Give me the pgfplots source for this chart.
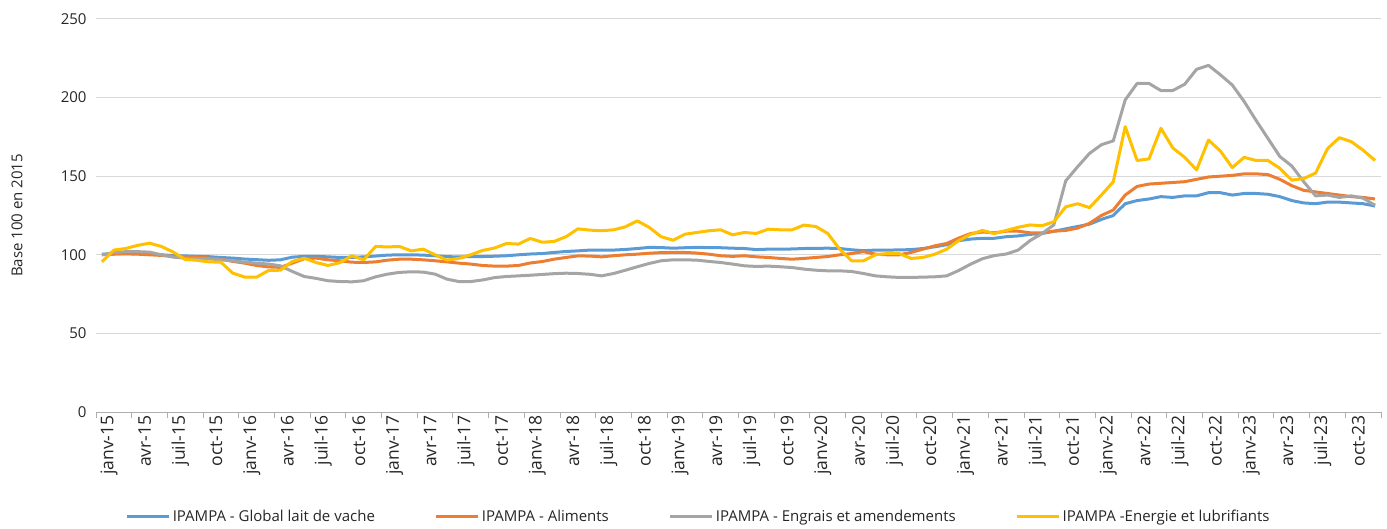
\documentclass[border=0pt]{standalone}
\usepackage{fontspec}
\setmainfont{Open Sans}
\usepackage{pgfplots}
\usepackage{pgfplotstable}
\pgfplotsset{compat=1.18}
\definecolor{cBlue}{HTML}{5B9BD5}
\definecolor{cOrange}{HTML}{ED7D31}
\definecolor{cGray}{HTML}{A5A5A5}
\definecolor{cYellow}{HTML}{FFC000}
\definecolor{cGrid}{HTML}{D9D9D9}
\definecolor{cText}{HTML}{262626}
\pgfplotstableread{
m lait alim engr ener
0 100.5 100 100 95.5
1 100.5 100.5 101.5 103
2 100.8 100.6 102 104
3 100.8 100.4 102 106
4 100.5 100 101.7 107.4
5 100 99.6 100 105.3
6 99.5 99 98.5 101.7
7 99.3 98.9 97.9 97
8 99 98.5 97.5 96.5
9 98.8 97.9 97.4 95.5
10 98.3 97.2 96.8 95.3
11 97.9 95.8 96.2 88.3
12 97.3 94.7 95.3 85.8
13 96.9 93.2 94.7 85.8
14 96.5 92.3 94.1 90
15 96.8 92 93 90.2
16 98.5 94.7 89.4 95.8
17 99 97.5 86.2 97.8
18 99 97.9 85 95.1
19 98.7 96.8 83.5 93.2
20 98.3 96.2 83 95
21 98.3 95.3 82.8 99.4
22 98.7 95.1 83.5 96.8
23 99.2 95.5 86 105.3
24 99.8 96.6 87.7 105
25 100 97.2 88.8 105.3
26 100 97.2 89.2 102.5
27 99.8 96.8 89 103.6
28 99.4 96.2 87.7 100
29 98.8 95.5 84.5 96.6
30 98.7 94.7 83 97.7
31 98.8 94.1 83 100
32 98.9 93.2 84 102.8
33 99.1 92.8 85.5 104.3
34 99.4 92.8 86.2 107.2
35 100 93.2 86.6 106.8
36 100.5 94.8 87 110.4
37 100.8 95.7 87.5 108
38 101.5 97.2 88 108.5
39 102.1 98.3 88.3 111.5
40 102.5 99.3 88.1 116.5
41 103 99.2 87.6 115.7
42 103 98.7 86.6 115.3
43 103 99.4 88.1 115.9
44 103.4 100 90.2 117.8
45 104 100.4 92.4 121.6
46 104.7 101 94.5 117.4
47 104.6 101.4 96.2 111.5
48 104.2 101.5 96.8 109.3
49 104.5 101.5 96.8 113.1
50 104.7 101.1 96.6 114.2
51 104.6 100.4 95.8 115.3
52 104.5 99.4 95.1 115.9
53 104.2 99 94.1 112.7
54 104 99.4 93 114.2
55 103.3 98.7 92.6 113.6
56 103.6 98.3 92.8 116.3
57 103.6 97.7 92.4 115.9
58 103.7 97.2 91.9 115.9
59 104 97.7 90.9 118.9
60 104.1 98.3 90.2 118
61 104.2 98.9 89.8 113.6
62 104 100 89.8 103.6
63 103.2 100.8 89.4 96.2
64 102.6 102 88.1 96.2
65 103 100.4 86.6 100
66 103 100 86 100.8
67 103.1 100 85.6 100.8
68 103.3 101.5 85.6 97.7
69 104 103.6 85.8 98.3
70 105.1 105.7 86 100.4
71 106.4 107.2 86.6 103.6
72 109 110.6 90 109
73 110 113.5 94 113
74 110.5 114.5 97.5 115.5
75 110.5 114 99.5 113.5
76 111.5 115 100.5 115.5
77 112 115 103 117.5
78 113 114 109 119
79 113.5 114 113.5 118.5
80 115 115 119 121
81 116.5 115.5 147 130.5
82 118 117 156 132.5
83 119.5 120 164.5 130
84 122.5 125 170 138
85 125 128.5 172.5 146.5
86 132.5 138 198.5 181.5
87 134.5 143.5 209 160
88 135.5 145 209 161
89 137 145.5 204.5 180.5
90 136.5 146 204.5 168
91 137.5 146.5 208.5 162
92 137.5 148 218 154
93 139.5 149.5 220.5 173
94 139.5 150 214.5 166
95 138 150.5 208 155.5
96 139 151.5 197.5 162
97 139 151.5 185.5 160
98 138.5 151 174 160
99 137 148 162.5 155
100 134.5 144 156.5 147.5
101 133 141 146.5 148.5
102 132.5 140 137.5 152
103 133.5 139 138 167.5
104 133.5 138 136.5 174.5
105 133 137 137.5 172
106 132.5 136.5 136 166.5
107 131 135.5 131.5 160
}\datatable
\begin{document}
\begin{tikzpicture}
\useasboundingbox (0,0) rectangle (1387bp,529bp);
\begin{axis}[
  at={(96bp,117bp)}, anchor=south west,
  scale only axis, width=1285bp, height=393bp,
  xmin=-0.5, xmax=107.5, ymin=0, ymax=250,
  font=\fontsize{15bp}{17bp}\selectfont\color{cText},
  /pgf/number format/assume math mode=true,
  axis x line*=bottom, axis y line*=left,
  x axis line style={-, draw=cGrid!80!black, line width=1bp},
  y axis line style={draw=none},
  ytick={0,50,...,250},
  ymajorgrids, grid style={cGrid, line width=1bp},
  xtick={0,3,...,105},
  xticklabels={janv-15,avr-15,juil-15,oct-15,janv-16,avr-16,juil-16,oct-16,janv-17,avr-17,juil-17,oct-17,janv-18,avr-18,juil-18,oct-18,janv-19,avr-19,juil-19,oct-19,janv-20,avr-20,juil-20,oct-20,janv-21,avr-21,juil-21,oct-21,janv-22,avr-22,juil-22,oct-22,janv-23,avr-23,juil-23,oct-23},
  minor xtick={-0.5,2.5,...,107.5},
  major x tick style={draw=none},
  major y tick style={draw=none},
  minor x tick style={draw=cGrid!80!black, line width=1bp},
  tick align=outside, minor tick length=6bp, major tick length=0bp,
  xticklabel style={rotate=90, anchor=east, yshift=-7bp, font=\fontsize{17.5bp}{19bp}\selectfont\color{cText}},
  yticklabel style={xshift=-6bp},
  ylabel={Base 100 en 2015},
  ylabel style={at={(axis description cs:-0.0615,0.5)}, anchor=center, rotate=0, font=\fontsize{15bp}{17bp}\selectfont\color{cText}},
  legend columns=4,
  legend style={at={(0.469,-0.265)}, anchor=center, draw=none, fill=none,
    font=\fontsize{15bp}{17bp}\selectfont\color{cText},
    /tikz/every even column/.append style={column sep=58bp},
    /tikz/every odd column/.append style={column sep=0bp}},
  legend cell align=left,
  legend image code/.code={\draw[#1, line width=3bp] (0bp,0bp) -- (42bp,0bp);},
  every axis plot/.append style={line width=3bp, line join=round},
]
\addplot[cBlue, no marks] table[x=m, y=lait] {\datatable};
\addlegendentry{IPAMPA - Global lait de vache}
\addplot[cOrange, no marks] table[x=m, y=alim] {\datatable};
\addlegendentry{IPAMPA - Aliments}
\addplot[cGray, no marks] table[x=m, y=engr] {\datatable};
\addlegendentry{IPAMPA - Engrais et amendements}
\addplot[cYellow, no marks] table[x=m, y=ener] {\datatable};
\addlegendentry{IPAMPA -Energie et lubrifiants}
\end{axis}
\end{tikzpicture}
\end{document}
